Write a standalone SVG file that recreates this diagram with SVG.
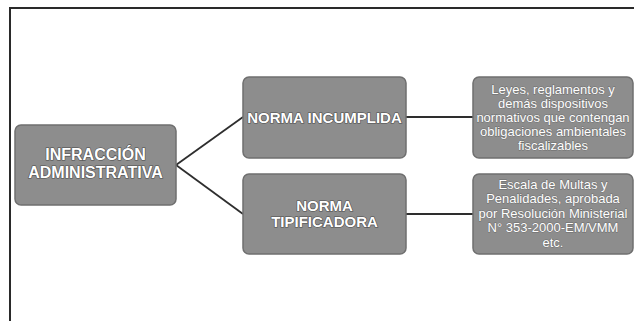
<svg xmlns="http://www.w3.org/2000/svg" width="634" height="321" viewBox="0 0 634 321">
<style>
.box{fill:#8d8d8d;stroke:#6f6f6f;stroke-width:1.5}
.big{font-family:"Liberation Sans",Arial,sans-serif;font-weight:bold;fill:#ffffff;stroke:#4a4a4a;stroke-width:1.2;paint-order:stroke;text-anchor:middle}
.small{font-family:"Liberation Sans",Arial,sans-serif;font-size:13px;fill:#ffffff;stroke:#6a6a6a;stroke-width:0.8;paint-order:stroke;text-anchor:middle}
.conn{stroke:#2e2e2e;stroke-width:1.8;fill:none}
.frame{stroke:#2a2a2a;stroke-width:2;fill:none}
</style>
<rect x="0" y="0" width="634" height="321" fill="#ffffff"/>
<g id="frame">
<path class="frame" d="M10,321 V8 H634"/>
</g>
<g id="connectors">
<line class="conn" x1="176" y1="165" x2="243" y2="117"/>
<line class="conn" x1="176" y1="165" x2="243" y2="214"/>
<line class="conn" x1="406" y1="117" x2="473" y2="117"/>
<line class="conn" x1="406" y1="214" x2="473" y2="214"/>
</g>
<g id="infraccion">
<rect class="box" x="15" y="125" width="161" height="80" rx="6"/>
<text class="big" font-size="16" x="95.5" y="160">INFRACCIÓN</text>
<text class="big" font-size="16" x="95.5" y="178">ADMINISTRATIVA</text>
</g>
<g id="norma-incumplida">
<rect class="box" x="243" y="77" width="163" height="81" rx="6"/>
<text class="big" font-size="15" x="324.5" y="122.5">NORMA INCUMPLIDA</text>
</g>
<g id="norma-tipificadora">
<rect class="box" x="243" y="174" width="163" height="80" rx="6"/>
<text class="big" font-size="15" x="324.5" y="211">NORMA</text>
<text class="big" font-size="15" x="324.5" y="227">TIPIFICADORA</text>
</g>
<g id="leyes">
<rect class="box" x="473" y="77" width="160" height="81" rx="6"/>
<text class="small" x="553" y="93.5">Leyes, reglamentos y</text>
<text class="small" x="553" y="107.5">demás dispositivos</text>
<text class="small" x="553" y="121.5">normativos que contengan</text>
<text class="small" x="553" y="135.5">obligaciones ambientales</text>
<text class="small" x="553" y="149.5">fiscalizables</text>
</g>
<g id="escala">
<rect class="box" x="473" y="174" width="160" height="80" rx="6"/>
<text class="small" x="553" y="188.5">Escala de Multas y</text>
<text class="small" x="553" y="203">Penalidades, aprobada</text>
<text class="small" x="553" y="217.5">por Resolución Ministerial</text>
<text class="small" x="553" y="232">N° 353-2000-EM/VMM</text>
<text class="small" x="553" y="246.5">etc.</text>
</g>
</svg>
